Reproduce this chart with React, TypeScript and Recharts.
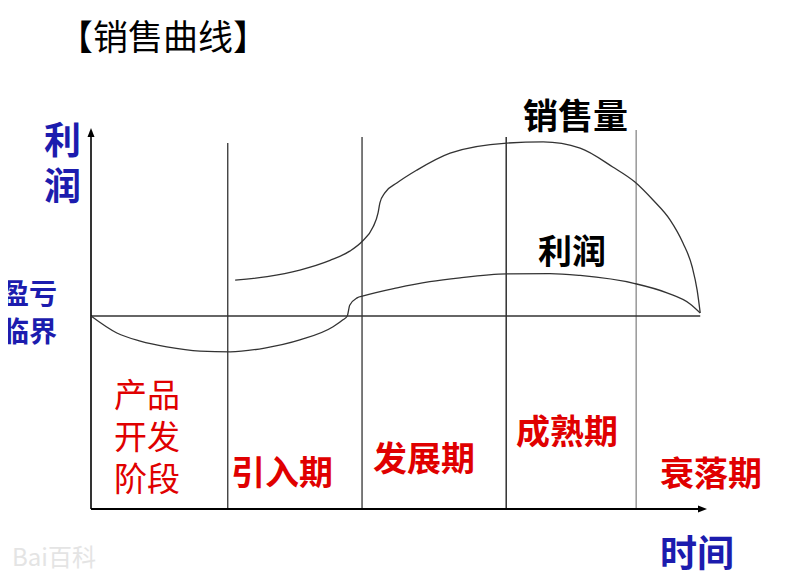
import React from 'react';
import { ComposedChart, Line, XAxis, YAxis, ReferenceLine, ReferenceDot } from 'recharts';

// time axis 0..100, value axis -50..50 (0 = break-even line)
const salesTime = [23.4, 28.6, 33.9, 38.8, 42.0, 44.0, 45.8, 46.6, 46.9, 47.7, 49.7, 52.9, 58.3, 67.5, 73.4, 79.4, 84.7, 88.3, 91.2, 94.0, 96.1, 97.6, 98.4, 98.9];
const salesValue = [9.3, 10.2, 11.9, 14.4, 16.8, 19.3, 23.1, 26.7, 29.3, 31.9, 34.5, 37.8, 42.2, 44.8, 45.1, 43.5, 38.6, 34.7, 30.1, 24.9, 18.9, 12.7, 6.7, 0.8];

const profitTime = [0, 4.2, 8.0, 12.3, 17.7, 22.6, 28.2, 33.9, 39.3, 40.9, 41.6, 42.0, 43.2, 44.2, 49.7, 55.0, 59.9, 67.5, 74.5, 79.4, 88.3, 93.5, 97.2, 98.9];
const profitValue = [0, -4.4, -6.5, -8.0, -9.1, -9.3, -8.3, -6.2, -2.8, -1.0, 0, 2.8, 4.7, 5.2, 7.3, 8.9, 9.9, 10.9, 11.0, 10.5, 8.4, 6.0, 3.2, 0.8];

const phaseBoundaries = [22.2, 44.0, 67.4, 88.5];
const phaseTops = [44.8, 46.4, 46.4, 48.2];
const phaseColors = ['#333', '#333', '#111', '#888'];

const breakEvenEnd = 98.9;
const yAxisTop = 48.7;
const xAxisEnd = 100;

const salesData = salesTime.map((t, i) => ({ t, v: salesValue[i] }));
const profitData = profitTime.map((t, i) => ({ t, v: profitValue[i] }));

const CJK = '"Noto Sans CJK SC", "Noto Sans", sans-serif';

type TextSpec = { text: string; left: number; top: number; size: number; color: string; weight: number; lh?: number };

// page coordinates
const texts: TextSpec[] = [
  { text: '【销售曲线】', left: 58, top: 17, size: 35, color: '#000', weight: 400 },
  { text: '利\n润', left: 44, top: 115, size: 37, color: '#1c1cae', weight: 700, lh: 46 },
  { text: '盈亏\n临界', left: 1, top: 273, size: 28, color: '#1c1cae', weight: 700, lh: 38 },
  { text: '销售量', left: 523, top: 96, size: 35, color: '#000', weight: 700 },
  { text: '利润', left: 538, top: 233, size: 34, color: '#000', weight: 700 },
  { text: '产品\n开发\n阶段', left: 114, top: 372, size: 33, color: '#e00000', weight: 400, lh: 42 },
  { text: '引入期', left: 231, top: 454, size: 34, color: '#e00000', weight: 700 },
  { text: '发展期', left: 373, top: 440, size: 34, color: '#e00000', weight: 700 },
  { text: '成熟期', left: 516, top: 413, size: 34, color: '#e00000', weight: 700 },
  { text: '衰落期', left: 660, top: 455, size: 34, color: '#e00000', weight: 700 },
  { text: '时间', left: 660, top: 533, size: 37, color: '#1c1cae', weight: 700 },
];

const ArrowUp = (p: any) => (
  <path d={`M${p.cx},${p.cy} L${p.cx - 3.5},${p.cy + 9} L${p.cx + 3.5},${p.cy + 9} Z`} fill="#000" />
);
const ArrowRight = (p: any) => (
  <path d={`M${p.cx},${p.cy} L${p.cx - 9},${p.cy - 3.5} L${p.cx - 9},${p.cy + 3.5} Z`} fill="#000" />
);

export default function App() {
  return (
    <div style={{ position: 'relative', width: 791, height: 575, margin: '-8px 0 0 -8px', background: '#fff' }}>
      <ComposedChart
        width={791}
        height={575}
        margin={{ top: 123, right: 84, bottom: 66, left: 91 }}
      >
        <XAxis type="number" dataKey="t" domain={[0, 100]} hide allowDataOverflow />
        <YAxis type="number" dataKey="v" domain={[-50, 50]} hide allowDataOverflow />
        {phaseBoundaries.map((b, i) => (
          <ReferenceLine
            key={'ph' + i}
            segment={[{ x: b, y: -50 }, { x: b, y: phaseTops[i] }]}
            stroke={phaseColors[i]}
            strokeWidth={1.3}
          />
        ))}
        <ReferenceLine segment={[{ x: 0, y: 0 }, { x: breakEvenEnd, y: 0 }]} stroke="#333" strokeWidth={1.6} />
        <ReferenceLine segment={[{ x: 0, y: -50 }, { x: 0, y: yAxisTop - 1 }]} stroke="#000" strokeWidth={1.6} />
        <ReferenceLine segment={[{ x: 0, y: -50 }, { x: xAxisEnd - 1, y: -50 }]} stroke="#000" strokeWidth={1.8} />
        <ReferenceDot x={0} y={yAxisTop} r={0} shape={ArrowUp} />
        <ReferenceDot x={xAxisEnd} y={-50} r={0} shape={ArrowRight} />
        <Line data={salesData} dataKey="v" type="monotone" stroke="#333" strokeWidth={1.3} dot={false} isAnimationActive={false} />
        <Line data={profitData} dataKey="v" type="monotone" stroke="#333" strokeWidth={1.3} dot={false} isAnimationActive={false} />
      </ComposedChart>
      {texts.map((s, i) => (
        <div
          key={i}
          style={{
            position: 'absolute',
            left: s.left,
            top: s.top,
            fontSize: s.size,
            lineHeight: s.lh ? `${s.lh}px` : 1,
            fontFamily: CJK,
            fontWeight: s.weight,
            color: s.color,
            whiteSpace: 'pre',
          }}
        >
          {s.text}
        </div>
      ))}
      <div
        style={{
          position: 'absolute',
          left: 12,
          top: 544,
          fontSize: 24,
          lineHeight: 1,
          fontFamily: CJK,
          color: '#e4e4e4',
          whiteSpace: 'pre',
        }}
      >
        Bai百科
      </div>
    </div>
  );
}
